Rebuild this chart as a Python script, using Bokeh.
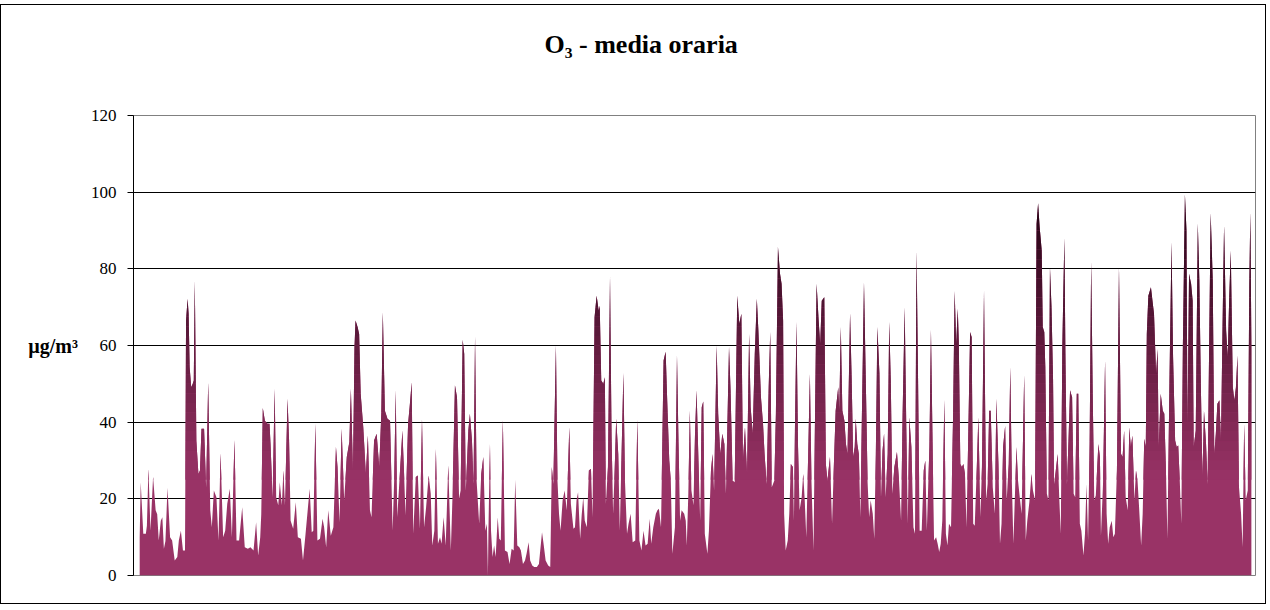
import numpy as np
from bokeh.plotting import figure
from bokeh.models import Range1d, FixedTicker, Title
from bokeh.embed import file_html
from bokeh.resources import INLINE

# ---- data: hour of period (Jan-Mar, hourly) and O3 hourly mean (ug/m3) ----
hours = [
    0, 2, 7, 12, 14, 17, 21, 26, 31, 34, 37, 41, 44, 47, 50, 54, 59, 63, 68, 73,
    76, 80, 84, 88, 90, 93, 95, 97, 100, 103, 105, 107, 110, 114, 117, 120, 125, 129, 133, 137,
    140, 144, 149, 153, 157, 162, 166, 170, 175, 179, 184, 188, 193, 199, 204,
    210, 215, 221, 226, 230, 234, 236, 239, 243, 248, 252, 254, 258, 262, 265,
    269, 272, 276, 279, 282, 287, 290, 293, 298, 303, 307, 313, 317, 322, 327,
    330, 334, 337, 341, 345, 350, 355, 358, 362, 366, 371, 376, 381, 384, 388,
    392, 397, 402, 407, 410, 414,
    417, 419, 423, 426, 429, 434, 439, 443, 447, 450, 455, 460, 465, 469, 472,
    476, 481, 486, 491, 494, 497, 500, 505, 510, 513, 516, 521, 524, 528, 531,
    536, 540, 544, 548, 552, 556, 561, 565, 568, 572, 575, 579, 583, 586, 590,
    594, 599, 604, 607, 612, 616, 620, 623, 627, 630, 633,
    635, 638, 641, 645, 648, 651, 654, 659, 663, 667, 671, 674, 676, 677, 680,
    682, 685, 688, 691, 695, 698, 701, 705, 709, 714, 718, 722, 726, 729, 733,
    737, 740, 744, 748, 751, 755, 758, 762, 766, 771, 775, 781, 784, 788, 793,
    797, 800, 803, 808, 811, 814, 817, 821, 825, 829, 834, 837, 842,
    845, 848, 851, 855, 858, 861, 864, 868, 872, 876, 879, 883, 887, 891, 893,
    896, 900, 903, 905, 909, 913, 916, 919, 922, 925, 929, 932, 935, 939, 942,
    946, 949, 953, 957, 962, 966, 970, 974, 978, 982, 986, 990, 993, 997, 1002,
    1005, 1008, 1012, 1017, 1021, 1024, 1028, 1031, 1034, 1039, 1043, 1046, 1049, 1052, 1057,
    1060, 1062, 1065, 1068, 1071, 1075, 1078, 1081, 1085, 1088, 1091, 1094, 1097, 1102, 1105,
    1109, 1112, 1115, 1120, 1123, 1127, 1131, 1135, 1138, 1144, 1147, 1151, 1155, 1160, 1164,
    1168, 1171, 1175, 1179, 1183, 1186, 1190, 1194, 1198, 1201, 1206, 1210, 1213, 1217, 1221,
    1224, 1227, 1232, 1235, 1239, 1243, 1246, 1249, 1251, 1254, 1258, 1261, 1264, 1268, 1270,
    1272, 1275, 1278, 1281, 1285, 1288, 1291, 1294, 1298, 1301, 1304, 1308, 1311, 1314, 1318,
    1321, 1324, 1329, 1332, 1335, 1340, 1344, 1347, 1351, 1356, 1358, 1361, 1364, 1368, 1371,
    1374, 1379, 1382, 1385, 1388, 1390, 1393, 1396, 1399, 1402, 1406, 1410, 1413, 1416, 1419,
    1423, 1426, 1429, 1432, 1436, 1439, 1442, 1445, 1448, 1452, 1455, 1458, 1461, 1465, 1470,
    1474, 1478, 1481, 1485,
    1488, 1491, 1494, 1498, 1502, 1505, 1508, 1511, 1514, 1518, 1522, 1525, 1528, 1533, 1536,
    1540, 1542, 1546, 1549, 1552, 1555, 1558, 1562, 1565, 1568, 1571, 1575, 1579, 1582, 1585,
    1588, 1590, 1593, 1596, 1599, 1602, 1605, 1608, 1612, 1615, 1618, 1621, 1625, 1628, 1632,
    1635, 1639, 1643, 1646, 1649, 1652, 1656, 1660, 1663, 1667, 1670, 1673, 1676, 1680, 1683,
    1687, 1690, 1693, 1696,
    1702, 1705, 1709, 1712, 1717, 1720, 1723, 1727, 1731, 1734, 1738, 1741, 1744, 1747, 1751,
    1753, 1756, 1758, 1761, 1764, 1767, 1770, 1773, 1775, 1778, 1782, 1785, 1788, 1791, 1795,
    1797, 1800, 1803, 1806, 1810, 1813, 1816, 1819, 1822, 1825, 1828, 1832, 1835, 1838, 1841,
    1844, 1847, 1850, 1853, 1856, 1861, 1864, 1866, 1870, 1874, 1877, 1880, 1883, 1887, 1890,
    1893, 1897, 1901, 1905, 1908, 1911,
    1914, 1918, 1921, 1924, 1927, 1931, 1934, 1937, 1940, 1944, 1947, 1950, 1953, 1955, 1958,
    1963, 1966, 1969, 1973, 1976, 1978, 1982, 1986, 1989, 1992, 1995, 1999, 2003, 2006, 2010,
    2013, 2016, 2019, 2022, 2025, 2029, 2032, 2034, 2037, 2041, 2044, 2046, 2050, 2054, 2057,
    2060, 2063, 2066, 2070, 2073, 2076, 2079, 2083, 2086, 2089, 2092, 2096, 2099, 2102, 2105,
    2109, 2112, 2115, 2118, 2122, 2125, 2128, 2131, 2134, 2138, 2141, 2144, 2147, 2151, 2154,
    2156, 2158,
]

o3 = [
    10, 24.3, 10.9, 10.9, 13, 27.8, 11.7, 25.7, 17, 16, 9.1, 14.3, 15.2, 7, 9, 22.9, 10, 9.1, 3.9, 4.8,
    9.1, 11.7, 6.5, 6.5, 66.5, 72.2, 68.3, 54.3, 49.1, 50, 50.9, 77, 35.2, 26.5, 27.4, 38.3, 38.3, 23, 50.4, 17,
    12.6, 22.2, 20.4, 9.1, 31.9, 10, 11.7, 18.7, 22.6, 10, 35.4, 9.1, 9.1, 17.8, 7.4,
    7, 7.4, 6.5, 13.9, 5.2, 10, 16, 43.7, 40.4, 39.6, 39.6, 34.3, 20.4, 48.7, 20.4,
    18.3, 24.3, 18.3, 27.4, 18.3, 46.1, 35.2, 14.3, 12.2, 19.1, 10, 9.6, 3.9, 10.9, 18.3,
    22.6, 11.3, 11.7, 39.6, 9.1, 9.6, 14.8, 12.6, 7.4, 17, 10.4, 12.6, 33.5, 28.3, 13.9,
    38.3, 19.6, 30.9, 34.8, 48.7, 27.4,
    59.6, 66.5, 64.8, 63, 47.4, 38.7, 26.5, 36.5, 17, 15.2, 35.2, 37, 28.3, 42.2, 68.7,
    43, 40.9, 40.4, 11.7, 24.8, 48.3, 15.2, 26.5, 37.8, 27.4, 15.7, 39.6, 43.9, 50.4, 10.9,
    25.7, 26.1, 12.2, 40.9, 12.6, 17.8, 26.1, 21.3, 7.8, 11.7, 33, 8.3, 10, 8.3, 15.2,
    7.8, 28.7, 6.5, 19.6, 49.6, 46.5, 20, 22.2, 61.5, 57.8, 22.2,
    28.3, 37.8, 42.2, 35.2, 23.9, 62.3, 24.8, 13.5, 26.5, 30.9, 11.7, 13.5, 0, 12, 34.3,
    11.7, 4.8, 7.8, 4.8, 15.2, 9.6, 9.1, 40.6, 6.5, 6.1, 3, 7, 6.5, 25, 7.8,
    7.4, 6.5, 3, 3.9, 5.7, 8.7, 3.9, 2.6, 2.2, 2.2, 3, 11.3, 8.3, 3.9, 2.6,
    2.2, 28.3, 23.9, 60, 24.8, 16.1, 11.7, 19.6, 22.2, 17, 38.7, 18.7, 12.2,
    12.6, 19.6, 21.7, 9.6, 15.7, 20.4, 14.3, 12.6, 27.4, 27.8, 15.2, 67.4, 73, 69.1, 70.4,
    50.9, 50, 51.7, 18.7, 28.3, 78, 36.1, 16.1, 27.4, 40.9, 31.7, 11.7, 29.1, 52.8, 24.8,
    10.9, 13.5, 16.1, 8.7, 9.1, 40.6, 9.1, 6.5, 11.7, 7.8, 8.3, 14.8, 8.3, 12.6, 16.1,
    17, 17.4, 12.6, 56.1, 58.4, 45.7, 30, 24.8, 5.7, 12.6, 57.4, 34.3, 14.3, 17, 16.1,
    14.3, 7.8, 21.3, 43, 22.2, 18.3, 37, 48.3, 28.3, 14.3, 43.9, 45.4, 10.9, 5.7, 11.7,
    27.4, 31.7, 22.2, 60, 42.2, 31.7, 37, 34.3, 21.3, 59.6, 48.3, 24.8, 24.3, 73, 65.7,
    68.3, 30, 38.7, 26.5, 63, 43.9, 37, 57.8, 72.2, 63.9, 46.5, 39.6, 31.7, 23.9, 49.1,
    63.5, 23, 24.8, 42.2, 85.7, 78.7, 76.1, 66.5, 16.1, 6.5, 9.1, 16.1, 29.1, 28.3, 14.3,
    38.7, 66.1, 33.5, 17, 20.4, 26.5, 19.6, 10, 33.5, 52.6, 24.8, 6.5, 42.2, 76.1, 66.5,
    60.4, 71.7, 72.6, 29.1, 24.8, 30.9, 13.5, 26.5, 43, 49.1, 43, 64.8, 43, 40.4, 34.3,
    31.7, 68.4, 51.7, 30.9, 33.5, 40.9, 34.3, 31.7, 15.2, 42.2, 76.5, 47.4, 24.3, 15.2, 19.6,
    16.1, 9.6, 31.7, 64.8, 52.6, 20.4, 32.6, 37, 20.4, 31.7, 66.1, 50.9, 21.3, 28.3, 32.2,
    24.8, 14.3, 42.2, 70,
    39.6, 13.5, 41.3, 33.5, 12.6, 10.9, 84.8, 50.9, 11.7, 11.7, 27.4, 30, 11.7, 33.5, 64.1,
    26.5, 9.1, 10, 8.3, 6.1, 8.3, 14.3, 45.8, 10.9, 7.8, 13.5, 12.6, 42.2, 74.2, 60.4,
    69.6, 61.3, 29.1, 28.3, 29.1, 26.5, 12.6, 33.5, 63.5, 62.2, 13.5, 13, 28.3, 41.3, 15.2,
    28.3, 74.3, 19.6, 23.9, 43, 43, 23, 16.1, 46.1, 29.1, 8.3, 13.5, 33.5, 39, 19.6,
    29.1, 54.3, 24.8, 8.3,
    33.5, 24.8, 19.6, 16.1, 52.3, 9.1, 14.3, 19.1, 26.5, 22.2, 19.6, 91.7, 97.1, 90.9, 84.8,
    64.8, 63.5, 54.3, 21.3, 19.6, 80.4, 70, 51.3, 23.9, 27, 31.7, 20.4, 10.9, 59.6, 88.1,
    57.8, 23.9, 35.2, 48.3, 46.5, 21.3, 20.4, 47.4, 47.4, 13.5, 11.7, 5.2, 10.9, 23.9, 9.1,
    34.3, 81.9, 47.4, 19.6, 20.9, 34.3, 30.9, 10.4, 23.9, 56.1, 16.1, 8.3, 12.6, 14.3, 10,
    10.9, 27.4, 80.6, 31.7, 30.9, 37.8,
    20.4, 17, 38.7, 33.5, 36.5, 19.6, 27.4, 24.8, 17.8, 7.8, 16.1, 35.7, 33.5, 63, 73,
    75.2, 71.7, 68.3, 52.6, 59.1, 33.5, 47.4, 43, 42.2, 28.3, 9.6, 50.9, 87, 57, 35.2,
    33.5, 33.9, 24.8, 13.5, 59.6, 99.4, 90, 38.7, 78.7, 76.1, 71.7, 33.5, 37.8, 91.9, 77,
    49.1, 25.7, 43, 34.3, 23.9, 59.6, 94.6, 77, 31.7, 37, 44.8, 45.7, 35.2, 64.8, 91.3,
    63.9, 57, 72.6, 84.8, 49.1, 45.7, 49.1, 57.4, 23, 16.1, 7.4, 39.6, 19.6, 22.2, 76.1,
    94.8, 60,
]

assert len(hours) == len(o3)

y_ticks = [0, 20, 40, 60, 80, 100, 120]
grid_levels = [20, 40, 60, 80, 100]
title_text = "O₃ - media oraria"
y_label = "µg/m³"

FONT = "Liberation Serif"
BASE = (153, 51, 102)
DARK = (32, 0, 16)


def shade(v):
    t = min(max((v - 25.0) / 75.0, 0.0), 1.0)
    return "#%02x%02x%02x" % tuple(int(round(a + (b - a) * t)) for a, b in zip(BASE, DARK))


def band(h, v, lo, hi):
    xs, ys = [h[0]], [v[0]]
    for i in range(1, len(h)):
        x0, y0, x1, y1 = h[i - 1], v[i - 1], h[i], v[i]
        cuts = []
        for L in (lo, hi):
            if (y0 - L) * (y1 - L) < 0:
                t = (L - y0) / (y1 - y0)
                cuts.append((t, x0 + t * (x1 - x0), L))
        for _, xc, yc in sorted(cuts):
            xs.append(xc)
            ys.append(yc)
        xs.append(x1)
        ys.append(y1)
    return xs, list(np.clip(np.array(ys, dtype=float), lo, hi))


p = figure(width=1266, height=600, x_range=Range1d(-12, 2166), y_range=Range1d(0, 120),
           output_backend="svg", toolbar_location=None, title_location=None,
           min_border_left=132, min_border_right=12, min_border_top=110, min_border_bottom=30)

p.background_fill_color = "white"
p.border_fill_color = "white"
p.outline_line_color = "#808080"
p.outline_line_width = 1

# spacer panel between frame and title, then the title itself
p.add_layout(Title(text=" ", text_font_size="1px", standoff=54), "above")
p.add_layout(Title(text=title_text, text_font=FONT, text_font_style="bold",
                   text_font_size="26px", text_color="black", align="left",
                   offset=411, standoff=0), "above")

p.xaxis.visible = False
p.xgrid.visible = False
p.ygrid.ticker = FixedTicker(ticks=grid_levels)
p.ygrid.grid_line_color = "black"
p.ygrid.grid_line_width = 1

p.yaxis.ticker = FixedTicker(ticks=y_ticks)
p.yaxis.axis_line_color = "black"
p.yaxis.major_tick_line_color = "black"
p.yaxis.major_tick_out = 6
p.yaxis.major_tick_in = 0
p.yaxis.minor_tick_out = 0
p.yaxis.minor_tick_in = 0
p.yaxis.major_label_text_font = FONT
p.yaxis.major_label_text_font_size = "17px"
p.yaxis.major_label_text_color = "black"
p.yaxis.major_label_standoff = 11
p.yaxis.axis_label = y_label
p.yaxis.axis_label_orientation = "horizontal"
p.yaxis.axis_label_text_font = FONT
p.yaxis.axis_label_text_font_style = "bold"
p.yaxis.axis_label_text_font_size = "20px"
p.yaxis.axis_label_text_color = "black"
p.yaxis.axis_label_standoff = 10

# base area
p.varea(x=hours, y1=0, y2=o3, fill_color=shade(0))

# gradient bands (darker with height)
levels = list(np.arange(25, 100.01, 2.5)) + [120]
for lo, hi in zip(levels[:-1], levels[1:]):
    if max(o3) <= lo:
        continue
    xs, ys = band(hours, o3, lo, hi)
    p.varea(x=xs, y1=lo, y2=ys, fill_color=shade((lo + hi) / 2.0))

p.styles = {"border": "1px solid black", "margin-top": "4px"}

open("out.html", "w").write(file_html(p, INLINE))
